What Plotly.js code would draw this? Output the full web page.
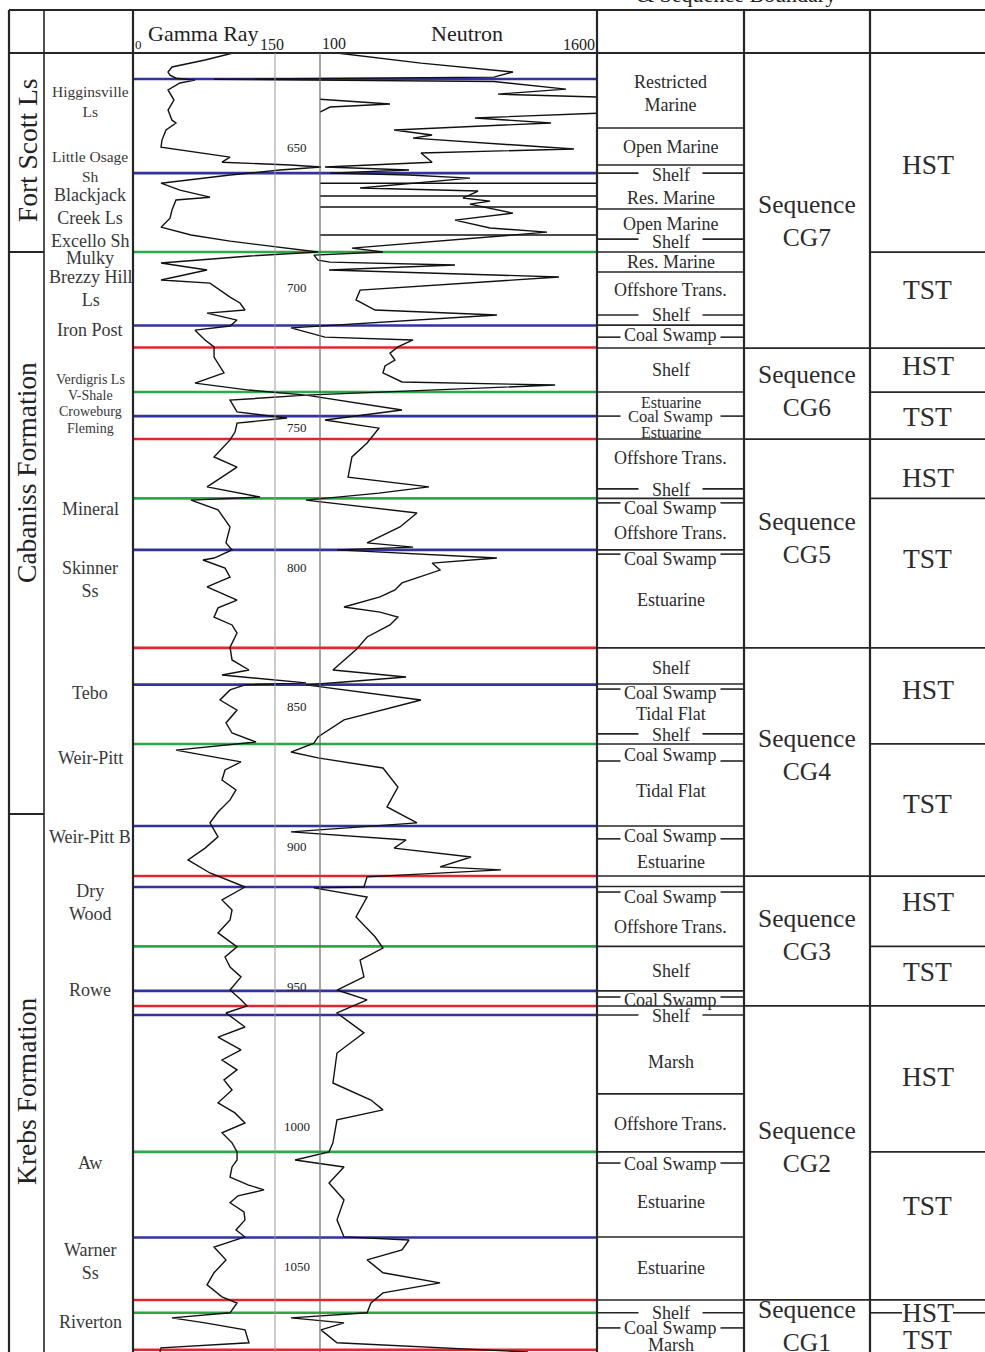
<!DOCTYPE html>
<html><head><meta charset="utf-8">
<script src="https://cdn.plot.ly/plotly-3.0.1.min.js"></script>
<style>html,body{margin:0;padding:0;background:#fff}</style>
</head><body><div id="chart" style="width:985px;height:1352px"></div>
<script>
// ================= DATA =================
// Gamma ray log (API) vs depth (ft)
const grDepth = [616.4,618.9,621.4,623.2,624.3,625.4,626.1,627.1,629.6,633.2,636.8,640.4,641.4,643.9,647.5,650,653.6,655.4,656.4,657.1,658.2,660,662.9,665.4,667.9,668.9,672.5,675.4,678.6,681.4,683.6,685.7,687.5,688.9,691.4,693.9,697.5,698.6,701.1,703.6,705.7,708.2,709.3,711.8,713.9,715.4,718.9,721.4,725,730.7,734.3,736.8,738.6,740.4,744.6,746.8,748.6,751.8,754.6,760.7,764.3,767.9,771.4,775,776.1,779.6,785.7,791.4,793.9,796.8,797.5,800.4,803.6,807.1,811.8,814.6,817.9,820.7,823.6,828.6,833.2,836.8,838.6,841.4,842.1,843.9,847.5,851.1,855.7,859.3,862.5,865.4,869.6,872.5,876.1,879.6,883.2,887.5,891.4,896.4,900.4,904.6,909.3,914.3,918.9,922.5,926.1,930.7,935.7,939.3,942.9,946.4,951.1,954.6,956.8,959.3,964.3,967.9,972.5,976.1,979.6,983.2,986.8,991.4,995,998.6,1002.1,1005.7,1008.9,1011.8,1014.3,1017.9,1020.7,1022.5,1024.6,1027.1,1030.4,1033.2,1036.8,1039.3,1042.9,1047.5,1052.1,1056.4,1060.7,1062.9,1066.4,1068.2,1070,1072.5,1077.1,1078.9,1080.4];
const grApi = [105.6,76.1,41.2,37.0,39.1,45.4,65.5,49.6,37.0,43.3,37.0,41.2,45.4,34.9,30.6,29.6,102.5,94.0,165.8,198.6,155.3,102.5,29.6,49.6,81.3,45.4,41.2,39.1,29.6,61.3,102.5,151.1,195.4,123.6,29.6,78.2,29.6,81.3,91.9,102.5,113.0,118.3,78.2,109.9,102.5,65.5,76.1,85.6,85.6,96.1,65.5,122.5,182.7,102.5,109.9,162.7,109.9,107.7,102.5,85.6,109.9,94.0,78.2,134.2,61.3,89.8,102.5,98.2,104.6,85.6,73.9,97.2,102.5,78.2,109.9,89.8,85.6,104.6,109.9,102.5,104.6,122.5,94.0,182.7,118.3,102.5,91.9,109.9,98.2,104.6,129.9,45.4,114.1,97.2,94.0,108.8,102.5,89.8,81.3,89.8,76.1,58.1,81.3,118.3,94.0,104.6,102.5,89.8,109.9,97.2,102.5,114.1,102.5,114.1,120.4,98.2,118.3,89.8,114.1,94.0,109.9,96.1,104.6,89.8,107.7,118.3,94.0,104.6,109.9,109.9,104.6,102.5,121.5,138.4,110.9,102.5,117.2,118.3,108.8,118.3,85.6,98.2,85.6,78.2,94.0,109.9,102.5,41.2,76.1,118.3,122.5,29.6,28.5];

// Neutron log (counts) vs depth (ft); null = wrap-around break
const neuDepth = [616.4,620,623.2,625,625.8,626.6,629.3,631.1,632.1,null,
  632.9,634.6,635.7,637.5,null,
  637.9,639.6,641.4,643.9,645.7,646.8,650.7,652.1,655.4,657.1,658.2,659.3,660,661.1,664.6,665.7,668.2,669.3,670.4,673.6,676.1,678.9,680.4,683.2,684.6,686.1,687.5,688.6,690.4,691.1,692.1,693.9,696.4,701.1,704.6,708.2,710,712.9,714.6,717.9,718.9,721.4,723.6,726.1,728.2,730.7,733.9,735,736.8,738.6,743.9,747.5,750.4,755.7,760.7,767.9,771.4,773.6,776.1,780.7,785.7,791.4,792.9,793.9,796.8,798.6,801.1,805.7,808.2,810.7,814.3,816.1,817.9,820.7,825,829.6,836.8,839.3,841.1,842.1,847.5,854.6,860.7,862.9,866.1,868.2,871.8,878.6,885.7,891.4,894.6,897.5,900.4,903.6,907.1,908.2,910.7,914.3,914.6,917.9,925,932.1,936.1,940.4,946.4,951.1,954.6,959.3,966.4,973.6,984.3,990.4,993.9,997.5,1005.7,1008.9,1011.8,1014.3,1020,1026.1,1033.2,1039.3,1040.4,1043.9,1047.5,1052.1,1055.7,1059.3,1062.9,1066.4,1068.2,1070,1072.5,1077.1,1080.4];
const neuCount = [192,647,1145,1042,-474,1042,1432,1064,1600,null,
  100,479,154,100,null,
  1600,939,1351,501,707,604,1475,647,707,127,582,154,582,912,317,956,874,1021,912,1145,831,1021,1329,804,533,273,441,67,89,154,831,149,1394,317,295,398,1058,317,-57,127,604,522,479,506,452,441,544,1373,647,24,544,127,419,355,273,252,690,419,24,625,533,355,604,192,1058,707,750,544,506,425,230,425,522,479,355,295,170,566,230,24,647,230,89,67,-57,89,441,522,463,625,-57,566,501,918,750,1080,355,338,67,355,295,398,441,317,338,192,355,192,338,192,170,376,441,192,170,149,-35,230,149,230,192,230,582,544,355,441,750,441,376,355,-57,230,105,192,1226];
// depths where the neutron trace wraps across the full track
const wrapDepth = [662.9, 667.5, 671.4, 681.4];

// Key surfaces: B = blue, G = green, R = red (sequence boundary)
const surfaceDepth = [625.7,659.3,687.5,713.75,721.6,737.5,746.1,754.3,775.5,793.9,828.9,842.0,863.2,892.5,910.4,914.3,935.5,951.4,956.8,960.0,1008.9,1039.5,1061.8,1066.4,1079.6];
const surfaceKind  = ['B','B','G','B','R','G','B','R','G','B','R','B','G','B','R','B','G','B','R','B','G','B','R','G','R'];

const depthTicks = [650,700,750,800,850,900,950,1000,1050];

const formationNames = ['Fort Scott Ls','Cabaniss Formation','Krebs Formation'];
const formationMid   = [651.1, 766.4, 987.5];
const formationBase  = [687.5, 888.2];

const memberNames = ['Higginsville<br>Ls','Little Osage<br>Sh','Blackjack<br>Creek Ls','Excello Sh','Mulky','Brezzy Hill<br>Ls','Iron Post','Verdigris Ls','V-Shale','Croweburg','Fleming','Mineral','Skinner<br>Ss','Tebo','Weir-Pitt','Weir-Pitt B','Dry<br>Wood','Rowe','Aw','Warner<br>Ss','Riverton'];
const memberDepth = [633.6,656.8,671.1,683.6,689.6,700.4,715.4,733.2,738.6,744.3,750.7,779.3,804.3,845,868.2,896.4,920,951.1,1012.9,1048.2,1069.6];

const envNames = ['Restricted<br>Marine','Open Marine','Res. Marine','Open Marine','Res. Marine','Offshore Trans.','Shelf','Estuarine','Estuarine','Offshore Trans.','Offshore Trans.','Estuarine','Shelf','Tidal Flat','Tidal Flat','Estuarine','Offshore Trans.','Shelf','Marsh','Offshore Trans.','Estuarine','Estuarine','Marsh'];
const envDepth = [630.7,650,668.2,677.5,691.1,701.1,729.6,741.1,751.8,761.1,787.9,811.8,836.1,852.5,880,905.4,928.6,944.3,976.8,998.9,1026.8,1050.4,1078];
// thin environments drawn on a tick line
const envThinNames = ['Shelf','Shelf','Shelf','Coal Swamp','Coal Swamp','Shelf','Coal Swamp','Coal Swamp','Coal Swamp','Shelf','Coal Swamp','Coal Swamp','Coal Swamp','Coal Swamp','Shelf','Coal Swamp','Shelf','Coal Swamp'];
const envThinDepth = [660,683.9,710,717.1,746.1,772.5,778.9,797.1,845,860,867.1,896.1,917.9,954.6,960.4,1013.2,1066.4,1071.8];
const envThinTick  = [659.3,682.9,710,717.9,746.1,772.1,777.1,795.4,843.6,859.6,869.3,897.1,916.1,953.6,960,1012.9,1066.4,1071.8];
const envBounds = [643.2,656.4,672.1,687.5,694.6,713.6,721.8,737.5,754.3,775.5,793.9,828.9,841.8,863.2,892.5,910.4,914.1,935.5,951.4,956.8,988.2,1008.9,1039.3,1061.8];

const seqNames  = ['CG7','CG6','CG5','CG4','CG3','CG2','CG1'];
const seqMid    = [676.4,737.3,789.5,867.1,931.4,1007.1,1071.25];
const seqBounds = [721.8,754.3,828.9,910.4,956.8,1061.8];

const tractNames  = ['HST','TST','HST','TST','HST','TST','HST','TST','HST','TST','HST','TST','HST','TST'];
const tractMid    = [656.1,700.7,728.2,746.4,768.2,797.1,843.9,884.6,919.6,944.6,982.1,1027.9,1066.4,1076.1];
const tractBounds = [687.5,721.8,737.5,754.3,775.5,828.9,863.2,910.4,935.5,956.8,1008.9,1061.8];

// ================= LAYOUT =================
const W = 985, H = 1352;
const PX = v => v / W, PY = v => 1 - v / H;
const SERIF = 'Liberation Serif, Times New Roman, serif';
const INK = '#262626';
const colorOf = {B:'#33329c', G:'#2aa84a', R:'#e4262c'};

const shapes = [];
const ann = [];
function hline(x0, x1, depth, color, width, layer) {
  shapes.push({type:'line', xref:'paper', yref:'y', x0:PX(x0), x1:PX(x1), y0:depth, y1:depth,
    line:{color:color, width:width}, layer: layer || 'above'});
}
function pline(x0, y0, x1, y1, width) {
  shapes.push({type:'line', xref:'paper', yref:'paper', x0:PX(x0), x1:PX(x1), y0:PY(y0), y1:PY(y1),
    line:{color:INK, width:width}});
}
function text(t, xp, depth, size, color) {
  ann.push({text:t, xref:'paper', yref:'y', x:PX(xp), y:depth, showarrow:false,
    xanchor:'center', yanchor:'middle', font:{family:SERIF, size:size, color:color || '#2b2b2b'}});
}
function htext(t, xref, x, yPix, size, xanchor, xshift) {
  ann.push({text:t, xref:xref, yref:'paper', x:x, y:PY(yPix), xanchor:xanchor || 'center', yanchor:'middle',
    xshift:xshift || 0, showarrow:false, font:{family:SERIF, size:size, color:'#222'}});
}

// colored surfaces across the log track
surfaceDepth.forEach((d, i) => hline(133, 597, d, colorOf[surfaceKind[i]], 2.6, 'below'));

// table frame
pline(9, 10, 985, 10, 2.2);
pline(9, 53, 985, 53, 2.2);
[9, 44, 133, 597, 744, 870].forEach(x => pline(x, 10, x, H, x === 44 ? 1.6 : 2.2));
formationBase.forEach(d => hline(9, 44, d, INK, 2));
envBounds.forEach(d => hline(597, 744, d, INK, 1.6));
seqBounds.forEach(d => hline(744, 870, d, INK, 1.8));
tractBounds.forEach(d => hline(870, 985, d, INK, 1.8));

// scale lines: GR = 150 and neutron = 100
shapes.push({type:'line', xref:'x', yref:'paper', x0:150, x1:150, y0:0, y1:PY(53), line:{color:'#9a9a9a', width:1}});
shapes.push({type:'line', xref:'x2', yref:'paper', x0:100, x1:100, y0:0, y1:PY(53), line:{color:'#6a6a6a', width:1.2}});

// header
htext('Gamma Ray', 'paper', PX(203), 33, 22);
htext('Neutron', 'paper', PX(467), 34, 22);
htext('0', 'x', 0, 44, 13, 'left');
htext('150', 'x', 150, 44, 16, 'center', -3);
htext('100', 'x2', 100, 43, 16, 'left');
htext('1600', 'x2', 1600, 45, 16, 'right');
ann.push({text:'& Sequence Boundary', xref:'paper', yref:'paper', x:PX(838), y:PY(9), yanchor:'bottom', showarrow:false,
  font:{family:SERIF, size:22, color:'#222'}});

// depth labels
depthTicks.forEach(d => ann.push({text:String(d), xref:'paper', yref:'y', x:PX(297), y:d, xanchor:'center', yanchor:'middle',
  showarrow:false, font:{family:SERIF, size:13, color:'#222'}}));

// formation labels (rotated)
formationNames.forEach((t, i) => ann.push({text:t, xref:'paper', yref:'y', x:PX(27), y:formationMid[i], xanchor:'center', yanchor:'middle',
  textangle:-90, showarrow:false, font:{family:SERIF, size:27.5, color:'#222'}}));

// member labels
const smallMembers = new Set(['Higginsville<br>Ls','Little Osage<br>Sh']);
const tinyMembers = new Set(['Verdigris Ls','V-Shale','Croweburg','Fleming']);
memberNames.forEach((t, i) => {
  const s = tinyMembers.has(t) ? 14 : (smallMembers.has(t) ? 15.5 : 18);
  text(t, 90, memberDepth[i], s, '#383838');
});

// environment labels
const crowded = d => d > 737.5 && d < 754.3;
envNames.forEach((t, i) => text(t, 670.5, envDepth[i], crowded(envDepth[i]) ? 16 : 18));
envThinNames.forEach((t, i) => {
  const half = t === 'Shelf' ? 32 : 50;
  hline(597, 670.5 - half, envThinTick[i], INK, 1.6);
  hline(670.5 + half, 744, envThinTick[i], INK, 1.6);
  text(t, 670.5, envThinDepth[i], crowded(envThinDepth[i]) ? 16.5 : 18);
});

// sequences and systems tracts
seqNames.forEach((t, i) => text('Sequence<br>' + t, 807, seqMid[i], 25.5));
tractNames.forEach((t, i) => text(t, 927.5, tractMid[i], 27.5));
hline(870, 902, tractMid[12], INK, 1.6);
hline(953, 985, tractMid[12], INK, 1.6);

// ================= TRACES =================
const wrapX = [], wrapY = [];
wrapDepth.forEach(d => { wrapX.push(100, 1600, null); wrapY.push(d, d, null); });

const traces = [
  {x: grApi, y: grDepth, xaxis:'x', yaxis:'y', mode:'lines', line:{color:'#111', width:1.4}, hoverinfo:'skip'},
  {x: neuCount, y: neuDepth, xaxis:'x2', yaxis:'y', mode:'lines', line:{color:'#111', width:1.4}, connectgaps:false, hoverinfo:'skip'},
  {x: wrapX, y: wrapY, xaxis:'x2', yaxis:'y', mode:'lines', line:{color:'#111', width:1.4}, connectgaps:false, hoverinfo:'skip'}
];

const layout = {
  width: W, height: H,
  margin: {l:0, r:0, t:0, b:0},
  paper_bgcolor: '#fff', plot_bgcolor: '#fff',
  showlegend: false,
  xaxis: {domain:[PX(133), PX(597)], range:[0, 490.1], visible:false, fixedrange:true},
  xaxis2: {overlaying:'x', anchor:'y', range:[-912.6, 1600], visible:false, fixedrange:true},
  yaxis: {domain:[0, PY(53)], range:[1080.4, 616.4], visible:false, fixedrange:true},
  shapes: shapes,
  annotations: ann
};

Plotly.newPlot('chart', traces, layout, {staticPlot:true, displayModeBar:false});
</script>
</body></html>
